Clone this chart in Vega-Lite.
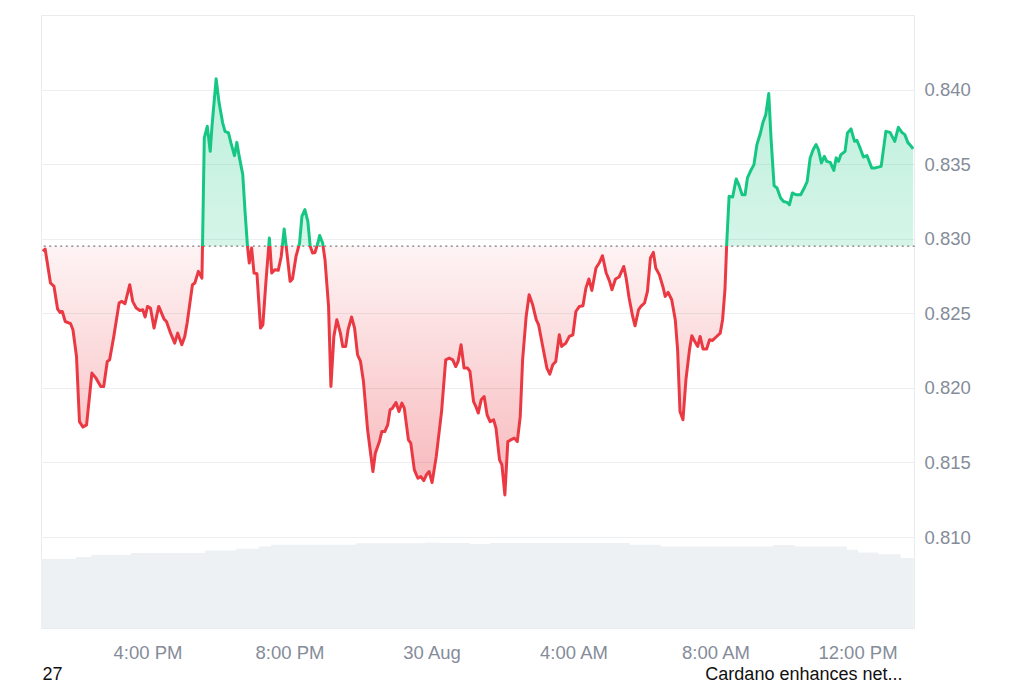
{
  "$schema": "https://vega.github.io/schema/vega-lite/v6.json",
  "width": 873,
  "height": 613,
  "padding": {"left": 40, "top": 15, "right": 0, "bottom": 0},
  "background": "white",
  "config": {"view": {"stroke": "#e9ecef", "strokeWidth": 1}, "font": "Liberation Sans"},
  "datasets": {
    "vol": [
      {"t": "2025-08-29T13:00", "v": 788}, {"t": "2025-08-29T13:59", "v": 811}, {"t": "2025-08-29T14:25", "v": 834},
      {"t": "2025-08-29T15:32", "v": 857}, {"t": "2025-08-29T17:37", "v": 886}, {"t": "2025-08-29T18:30", "v": 904},
      {"t": "2025-08-29T19:08", "v": 932}, {"t": "2025-08-29T19:29", "v": 950}, {"t": "2025-08-29T21:52", "v": 968},
      {"t": "2025-08-29T23:49", "v": 976}, {"t": "2025-08-30T00:13", "v": 972}, {"t": "2025-08-30T01:05", "v": 959},
      {"t": "2025-08-30T01:39", "v": 972}, {"t": "2025-08-30T05:35", "v": 950}, {"t": "2025-08-30T06:28", "v": 932},
      {"t": "2025-08-30T09:37", "v": 947}, {"t": "2025-08-30T10:14", "v": 932}, {"t": "2025-08-30T11:42", "v": 894},
      {"t": "2025-08-30T12:01", "v": 863}, {"t": "2025-08-30T12:35", "v": 842}, {"t": "2025-08-30T13:13", "v": 800},
      {"t": "2025-08-30T13:35", "v": 790}
    ],
    "base": [{"b": 0.8295}],
    "price": [
      {"t": "2025-08-29T13:03", "p": 0.82916}, {"t": "2025-08-29T13:07", "p": 0.82931}, {"t": "2025-08-29T13:16", "p": 0.82703},
      {"t": "2025-08-29T13:22", "p": 0.82680}, {"t": "2025-08-29T13:28", "p": 0.82529}, {"t": "2025-08-29T13:32", "p": 0.82506},
      {"t": "2025-08-29T13:36", "p": 0.82512}, {"t": "2025-08-29T13:41", "p": 0.82445}, {"t": "2025-08-29T13:50", "p": 0.82430},
      {"t": "2025-08-29T13:54", "p": 0.82390}, {"t": "2025-08-29T14:00", "p": 0.82210}, {"t": "2025-08-29T14:05", "p": 0.81774},
      {"t": "2025-08-29T14:11", "p": 0.81737}, {"t": "2025-08-29T14:17", "p": 0.81752}, {"t": "2025-08-29T14:26", "p": 0.82099},
      {"t": "2025-08-29T14:33", "p": 0.82065}, {"t": "2025-08-29T14:41", "p": 0.82009}, {"t": "2025-08-29T14:46", "p": 0.82009},
      {"t": "2025-08-29T14:52", "p": 0.82177}, {"t": "2025-08-29T14:56", "p": 0.82188}, {"t": "2025-08-29T15:03", "p": 0.82345},
      {"t": "2025-08-29T15:12", "p": 0.82569}, {"t": "2025-08-29T15:16", "p": 0.82580}, {"t": "2025-08-29T15:22", "p": 0.82564},
      {"t": "2025-08-29T15:30", "p": 0.82692}, {"t": "2025-08-29T15:35", "p": 0.82580}, {"t": "2025-08-29T15:41", "p": 0.82535},
      {"t": "2025-08-29T15:47", "p": 0.82519}, {"t": "2025-08-29T15:52", "p": 0.82524}, {"t": "2025-08-29T15:56", "p": 0.82475},
      {"t": "2025-08-29T16:00", "p": 0.82546}, {"t": "2025-08-29T16:05", "p": 0.82535}, {"t": "2025-08-29T16:11", "p": 0.82401},
      {"t": "2025-08-29T16:19", "p": 0.82546}, {"t": "2025-08-29T16:28", "p": 0.82461}, {"t": "2025-08-29T16:32", "p": 0.82445},
      {"t": "2025-08-29T16:39", "p": 0.82367}, {"t": "2025-08-29T16:46", "p": 0.82300}, {"t": "2025-08-29T16:51", "p": 0.82367},
      {"t": "2025-08-29T16:58", "p": 0.82289}, {"t": "2025-08-29T17:03", "p": 0.82345}, {"t": "2025-08-29T17:07", "p": 0.82435},
      {"t": "2025-08-29T17:16", "p": 0.82692}, {"t": "2025-08-29T17:20", "p": 0.82703}, {"t": "2025-08-29T17:26", "p": 0.82781},
      {"t": "2025-08-29T17:32", "p": 0.82736}, {"t": "2025-08-29T17:33", "p": 0.82960}, {"t": "2025-08-29T17:36", "p": 0.83676},
      {"t": "2025-08-29T17:41", "p": 0.83754}, {"t": "2025-08-29T17:46", "p": 0.83586}, {"t": "2025-08-29T17:49", "p": 0.83754},
      {"t": "2025-08-29T17:56", "p": 0.84072}, {"t": "2025-08-29T18:01", "p": 0.83911}, {"t": "2025-08-29T18:07", "p": 0.83777},
      {"t": "2025-08-29T18:11", "p": 0.83720}, {"t": "2025-08-29T18:17", "p": 0.83709}, {"t": "2025-08-29T18:21", "p": 0.83642},
      {"t": "2025-08-29T18:27", "p": 0.83557}, {"t": "2025-08-29T18:31", "p": 0.83646}, {"t": "2025-08-29T18:35", "p": 0.83552},
      {"t": "2025-08-29T18:41", "p": 0.83430}, {"t": "2025-08-29T18:45", "p": 0.83173}, {"t": "2025-08-29T18:49", "p": 0.82949},
      {"t": "2025-08-29T18:52", "p": 0.82837}, {"t": "2025-08-29T18:56", "p": 0.82938}, {"t": "2025-08-29T19:00", "p": 0.82770},
      {"t": "2025-08-29T19:05", "p": 0.82765}, {"t": "2025-08-29T19:11", "p": 0.82401}, {"t": "2025-08-29T19:15", "p": 0.82423},
      {"t": "2025-08-29T19:20", "p": 0.82703}, {"t": "2025-08-29T19:26", "p": 0.83005}, {"t": "2025-08-29T19:30", "p": 0.82770},
      {"t": "2025-08-29T19:35", "p": 0.82792}, {"t": "2025-08-29T19:41", "p": 0.82788}, {"t": "2025-08-29T19:46", "p": 0.82881},
      {"t": "2025-08-29T19:51", "p": 0.83065}, {"t": "2025-08-29T19:56", "p": 0.82893}, {"t": "2025-08-29T20:01", "p": 0.82714},
      {"t": "2025-08-29T20:05", "p": 0.82730}, {"t": "2025-08-29T20:11", "p": 0.82881}, {"t": "2025-08-29T20:17", "p": 0.82971},
      {"t": "2025-08-29T20:21", "p": 0.83150}, {"t": "2025-08-29T20:26", "p": 0.83195}, {"t": "2025-08-29T20:31", "p": 0.83116},
      {"t": "2025-08-29T20:35", "p": 0.82949}, {"t": "2025-08-29T20:39", "p": 0.82904}, {"t": "2025-08-29T20:43", "p": 0.82908},
      {"t": "2025-08-29T20:48", "p": 0.82971}, {"t": "2025-08-29T20:51", "p": 0.83022}, {"t": "2025-08-29T20:56", "p": 0.82971},
      {"t": "2025-08-29T21:00", "p": 0.82859}, {"t": "2025-08-29T21:06", "p": 0.82546}, {"t": "2025-08-29T21:10", "p": 0.82009},
      {"t": "2025-08-29T21:15", "p": 0.82345}, {"t": "2025-08-29T21:20", "p": 0.82457}, {"t": "2025-08-29T21:26", "p": 0.82367},
      {"t": "2025-08-29T21:30", "p": 0.82278}, {"t": "2025-08-29T21:35", "p": 0.82278}, {"t": "2025-08-29T21:39", "p": 0.82390},
      {"t": "2025-08-29T21:45", "p": 0.82475}, {"t": "2025-08-29T21:50", "p": 0.82401}, {"t": "2025-08-29T21:55", "p": 0.82222},
      {"t": "2025-08-29T22:00", "p": 0.82177}, {"t": "2025-08-29T22:05", "p": 0.82043}, {"t": "2025-08-29T22:12", "p": 0.81719},
      {"t": "2025-08-29T22:21", "p": 0.81439}, {"t": "2025-08-29T22:25", "p": 0.81562}, {"t": "2025-08-29T22:32", "p": 0.81640},
      {"t": "2025-08-29T22:36", "p": 0.81707}, {"t": "2025-08-29T22:41", "p": 0.81707}, {"t": "2025-08-29T22:46", "p": 0.81752},
      {"t": "2025-08-29T22:50", "p": 0.81853}, {"t": "2025-08-29T22:54", "p": 0.81864}, {"t": "2025-08-29T23:00", "p": 0.81902},
      {"t": "2025-08-29T23:05", "p": 0.81841}, {"t": "2025-08-29T23:10", "p": 0.81898}, {"t": "2025-08-29T23:14", "p": 0.81864},
      {"t": "2025-08-29T23:21", "p": 0.81651}, {"t": "2025-08-29T23:25", "p": 0.81629}, {"t": "2025-08-29T23:31", "p": 0.81450},
      {"t": "2025-08-29T23:37", "p": 0.81394}, {"t": "2025-08-29T23:42", "p": 0.81405}, {"t": "2025-08-29T23:47", "p": 0.81378},
      {"t": "2025-08-29T23:52", "p": 0.81421}, {"t": "2025-08-29T23:56", "p": 0.81439}, {"t": "2025-08-30T00:01", "p": 0.81365},
      {"t": "2025-08-30T00:08", "p": 0.81539}, {"t": "2025-08-30T00:17", "p": 0.81841}, {"t": "2025-08-30T00:24", "p": 0.82188},
      {"t": "2025-08-30T00:30", "p": 0.82200}, {"t": "2025-08-30T00:36", "p": 0.82188}, {"t": "2025-08-30T00:41", "p": 0.82143},
      {"t": "2025-08-30T00:45", "p": 0.82177}, {"t": "2025-08-30T00:50", "p": 0.82289}, {"t": "2025-08-30T00:55", "p": 0.82133},
      {"t": "2025-08-30T01:01", "p": 0.82133}, {"t": "2025-08-30T01:05", "p": 0.82110}, {"t": "2025-08-30T01:11", "p": 0.81909},
      {"t": "2025-08-30T01:15", "p": 0.81875}, {"t": "2025-08-30T01:19", "p": 0.81831}, {"t": "2025-08-30T01:24", "p": 0.81920},
      {"t": "2025-08-30T01:29", "p": 0.81942}, {"t": "2025-08-30T01:34", "p": 0.81819}, {"t": "2025-08-30T01:39", "p": 0.81774},
      {"t": "2025-08-30T01:45", "p": 0.81786}, {"t": "2025-08-30T01:49", "p": 0.81730}, {"t": "2025-08-30T01:55", "p": 0.81517},
      {"t": "2025-08-30T01:59", "p": 0.81484}, {"t": "2025-08-30T02:04", "p": 0.81282}, {"t": "2025-08-30T02:09", "p": 0.81640},
      {"t": "2025-08-30T02:14", "p": 0.81651}, {"t": "2025-08-30T02:20", "p": 0.81663}, {"t": "2025-08-30T02:25", "p": 0.81640},
      {"t": "2025-08-30T02:30", "p": 0.81808}, {"t": "2025-08-30T02:34", "p": 0.82188}, {"t": "2025-08-30T02:40", "p": 0.82479},
      {"t": "2025-08-30T02:45", "p": 0.82624}, {"t": "2025-08-30T02:51", "p": 0.82557}, {"t": "2025-08-30T02:57", "p": 0.82457},
      {"t": "2025-08-30T03:01", "p": 0.82423}, {"t": "2025-08-30T03:08", "p": 0.82278}, {"t": "2025-08-30T03:15", "p": 0.82133},
      {"t": "2025-08-30T03:20", "p": 0.82092}, {"t": "2025-08-30T03:25", "p": 0.82155}, {"t": "2025-08-30T03:30", "p": 0.82177},
      {"t": "2025-08-30T03:36", "p": 0.82356}, {"t": "2025-08-30T03:40", "p": 0.82278}, {"t": "2025-08-30T03:47", "p": 0.82300},
      {"t": "2025-08-30T03:53", "p": 0.82345}, {"t": "2025-08-30T03:59", "p": 0.82356}, {"t": "2025-08-30T04:04", "p": 0.82512},
      {"t": "2025-08-30T04:10", "p": 0.82546}, {"t": "2025-08-30T04:16", "p": 0.82551}, {"t": "2025-08-30T04:21", "p": 0.82669},
      {"t": "2025-08-30T04:26", "p": 0.82730}, {"t": "2025-08-30T04:31", "p": 0.82653}, {"t": "2025-08-30T04:38", "p": 0.82804},
      {"t": "2025-08-30T04:44", "p": 0.82841}, {"t": "2025-08-30T04:49", "p": 0.82886}, {"t": "2025-08-30T04:55", "p": 0.82774},
      {"t": "2025-08-30T05:01", "p": 0.82714}, {"t": "2025-08-30T05:05", "p": 0.82658}, {"t": "2025-08-30T05:11", "p": 0.82730},
      {"t": "2025-08-30T05:17", "p": 0.82743}, {"t": "2025-08-30T05:25", "p": 0.82814}, {"t": "2025-08-30T05:29", "p": 0.82736},
      {"t": "2025-08-30T05:34", "p": 0.82602}, {"t": "2025-08-30T05:40", "p": 0.82479}, {"t": "2025-08-30T05:44", "p": 0.82416},
      {"t": "2025-08-30T05:50", "p": 0.82524}, {"t": "2025-08-30T05:54", "p": 0.82546}, {"t": "2025-08-30T06:00", "p": 0.82569},
      {"t": "2025-08-30T06:05", "p": 0.82647}, {"t": "2025-08-30T06:10", "p": 0.82871}, {"t": "2025-08-30T06:15", "p": 0.82908},
      {"t": "2025-08-30T06:19", "p": 0.82804}, {"t": "2025-08-30T06:25", "p": 0.82759}, {"t": "2025-08-30T06:31", "p": 0.82680},
      {"t": "2025-08-30T06:35", "p": 0.82613}, {"t": "2025-08-30T06:40", "p": 0.82640}, {"t": "2025-08-30T06:46", "p": 0.82591},
      {"t": "2025-08-30T06:52", "p": 0.82457}, {"t": "2025-08-30T06:56", "p": 0.82255}, {"t": "2025-08-30T07:00", "p": 0.81841},
      {"t": "2025-08-30T07:05", "p": 0.81786}, {"t": "2025-08-30T07:10", "p": 0.82054}, {"t": "2025-08-30T07:16", "p": 0.82255},
      {"t": "2025-08-30T07:20", "p": 0.82349}, {"t": "2025-08-30T07:25", "p": 0.82311}, {"t": "2025-08-30T07:30", "p": 0.82278},
      {"t": "2025-08-30T07:34", "p": 0.82345}, {"t": "2025-08-30T07:39", "p": 0.82260}, {"t": "2025-08-30T07:45", "p": 0.82260},
      {"t": "2025-08-30T07:50", "p": 0.82323}, {"t": "2025-08-30T07:55", "p": 0.82318}, {"t": "2025-08-30T08:01", "p": 0.82341},
      {"t": "2025-08-30T08:08", "p": 0.82367}, {"t": "2025-08-30T08:12", "p": 0.82457}, {"t": "2025-08-30T08:16", "p": 0.82658},
      {"t": "2025-08-30T08:19", "p": 0.82971}, {"t": "2025-08-30T08:23", "p": 0.83284}, {"t": "2025-08-30T08:29", "p": 0.83280},
      {"t": "2025-08-30T08:35", "p": 0.83401}, {"t": "2025-08-30T08:40", "p": 0.83356}, {"t": "2025-08-30T08:45", "p": 0.83295},
      {"t": "2025-08-30T08:50", "p": 0.83295}, {"t": "2025-08-30T08:54", "p": 0.83408}, {"t": "2025-08-30T08:59", "p": 0.83452},
      {"t": "2025-08-30T09:05", "p": 0.83497}, {"t": "2025-08-30T09:10", "p": 0.83631}, {"t": "2025-08-30T09:16", "p": 0.83709},
      {"t": "2025-08-30T09:20", "p": 0.83777}, {"t": "2025-08-30T09:25", "p": 0.83832}, {"t": "2025-08-30T09:30", "p": 0.83973},
      {"t": "2025-08-30T09:34", "p": 0.83664}, {"t": "2025-08-30T09:39", "p": 0.83356}, {"t": "2025-08-30T09:44", "p": 0.83340},
      {"t": "2025-08-30T09:50", "p": 0.83273}, {"t": "2025-08-30T09:55", "p": 0.83250}, {"t": "2025-08-30T10:01", "p": 0.83244},
      {"t": "2025-08-30T10:05", "p": 0.83228}, {"t": "2025-08-30T10:10", "p": 0.83307}, {"t": "2025-08-30T10:16", "p": 0.83295},
      {"t": "2025-08-30T10:24", "p": 0.83295}, {"t": "2025-08-30T10:30", "p": 0.83340}, {"t": "2025-08-30T10:35", "p": 0.83385},
      {"t": "2025-08-30T10:40", "p": 0.83542}, {"t": "2025-08-30T10:45", "p": 0.83597}, {"t": "2025-08-30T10:50", "p": 0.83631},
      {"t": "2025-08-30T10:54", "p": 0.83597}, {"t": "2025-08-30T10:59", "p": 0.83508}, {"t": "2025-08-30T11:04", "p": 0.83552},
      {"t": "2025-08-30T11:08", "p": 0.83519}, {"t": "2025-08-30T11:14", "p": 0.83512}, {"t": "2025-08-30T11:20", "p": 0.83458},
      {"t": "2025-08-30T11:24", "p": 0.83542}, {"t": "2025-08-30T11:28", "p": 0.83519}, {"t": "2025-08-30T11:32", "p": 0.83564},
      {"t": "2025-08-30T11:39", "p": 0.83586}, {"t": "2025-08-30T11:43", "p": 0.83709}, {"t": "2025-08-30T11:49", "p": 0.83736},
      {"t": "2025-08-30T11:55", "p": 0.83653}, {"t": "2025-08-30T11:59", "p": 0.83660}, {"t": "2025-08-30T12:05", "p": 0.83602},
      {"t": "2025-08-30T12:10", "p": 0.83548}, {"t": "2025-08-30T12:16", "p": 0.83557}, {"t": "2025-08-30T12:24", "p": 0.83475},
      {"t": "2025-08-30T12:30", "p": 0.83475}, {"t": "2025-08-30T12:40", "p": 0.83485}, {"t": "2025-08-30T12:48", "p": 0.83720},
      {"t": "2025-08-30T12:55", "p": 0.83713}, {"t": "2025-08-30T13:03", "p": 0.83653}, {"t": "2025-08-30T13:09", "p": 0.83747},
      {"t": "2025-08-30T13:15", "p": 0.83713}, {"t": "2025-08-30T13:20", "p": 0.83698}, {"t": "2025-08-30T13:25", "p": 0.83646},
      {"t": "2025-08-30T13:30", "p": 0.83624}, {"t": "2025-08-30T13:34", "p": 0.83602}
    ]
  },
  "layer": [
    {
      "data": {"name": "vol"},
      "mark": {"type": "area", "interpolate": "step-after", "color": "#eef1f4"},
      "encoding": {
        "x": {
          "field": "t",
          "type": "temporal",
          "scale": {
            "domain": [
              {"year": 2025, "month": 8, "date": 29, "hours": 13, "minutes": 0},
              {"year": 2025, "month": 8, "date": 30, "hours": 13, "minutes": 35, "seconds": 30}
            ]
          },
          "axis": {
            "values": [
              {"year": 2025, "month": 8, "date": 29, "hours": 16},
              {"year": 2025, "month": 8, "date": 29, "hours": 20},
              {"year": 2025, "month": 8, "date": 30, "hours": 0},
              {"year": 2025, "month": 8, "date": 30, "hours": 4},
              {"year": 2025, "month": 8, "date": 30, "hours": 8},
              {"year": 2025, "month": 8, "date": 30, "hours": 12}
            ],
            "labelExpr": "hours(datum.value) == 0 ? timeFormat(datum.value, '%-d %b') : timeFormat(datum.value, '%-I:%M %p')",
            "grid": false,
            "domain": false,
            "ticks": false,
            "labelPadding": 15,
            "labelFont": "Liberation Sans",
            "labelFontSize": 18.5,
            "labelColor": "#858c99",
            "title": "Cardano enhances net...",
            "titleFont": "Liberation Sans",
            "titleFontSize": 18,
            "titleFontWeight": "normal",
            "titleColor": "#111111",
            "titleX": 861,
            "titleY": 51,
            "titleAlign": "right",
            "titleBaseline": "alphabetic",
            "titleAngle": 0
          }
        },
        "y": {"field": "v", "type": "quantitative", "scale": {"domain": [0, 7000]}, "axis": null}
      }
    },
    {
      "layer": [
        {
          "data": {"name": "price"},
          "mark": {
            "type": "area",
            "stroke": null,
            "fill": {
              "gradient": "linear", "x1": 0, "y1": 0, "x2": 0, "y2": 1,
              "stops": [
                {"offset": 0, "color": "rgba(22,199,132,0.28)"},
                {"offset": 0.40215, "color": "rgba(22,199,132,0.18)"},
                {"offset": 0.40215, "color": "rgba(234,57,67,0.06)"},
                {"offset": 1, "color": "rgba(234,57,67,0.36)"}
              ]
            }
          },
          "encoding": {
            "x": {"field": "t", "type": "temporal"},
            "y": {
              "field": "p",
              "type": "quantitative",
              "scale": {"domain": [0.8039, 0.845], "zero": false, "nice": false},
              "axis": {
                "orient": "right",
                "values": [0.81, 0.815, 0.82, 0.825, 0.83, 0.835, 0.84],
                "format": ".3f",
                "grid": true,
                "gridColor": "#eceef1",
                "gridWidth": 1,
                "domain": false,
                "ticks": false,
                "labelPadding": 10,
                "labelFont": "Liberation Sans",
                "labelFontSize": 18.5,
                "labelColor": "#858c99",
                "title": "27",
                "titleFont": "Liberation Sans",
                "titleFontSize": 18,
                "titleFontWeight": "normal",
                "titleColor": "#111111",
                "titleX": -872,
                "titleY": 664,
                "titleAngle": 0,
                "titleAlign": "left",
                "titleBaseline": "alphabetic"
              }
            },
            "y2": {"datum": 0.8295}
          }
        },
        {
          "data": {"name": "base"},
          "mark": {"type": "rule", "color": "#9a9a9a", "strokeDash": [0.5, 5], "strokeCap": "round", "strokeWidth": 1.8},
          "encoding": {"y": {"field": "b", "type": "quantitative"}}
        },
        {
          "data": {"name": "price"},
          "mark": {
            "type": "line",
            "strokeWidth": 3,
            "strokeJoin": "round",
            "color": {
              "gradient": "linear", "x1": 0, "y1": 0, "x2": 0, "y2": 1,
              "stops": [
                {"offset": 0, "color": "#16c784"},
                {"offset": 0.40215, "color": "#16c784"},
                {"offset": 0.40215, "color": "#ea3943"},
                {"offset": 1, "color": "#ea3943"}
              ]
            }
          },
          "encoding": {
            "x": {"field": "t", "type": "temporal"},
            "y": {"field": "p", "type": "quantitative"}
          }
        }
      ]
    }
  ],
  "resolve": {"scale": {"y": "independent"}}
}
